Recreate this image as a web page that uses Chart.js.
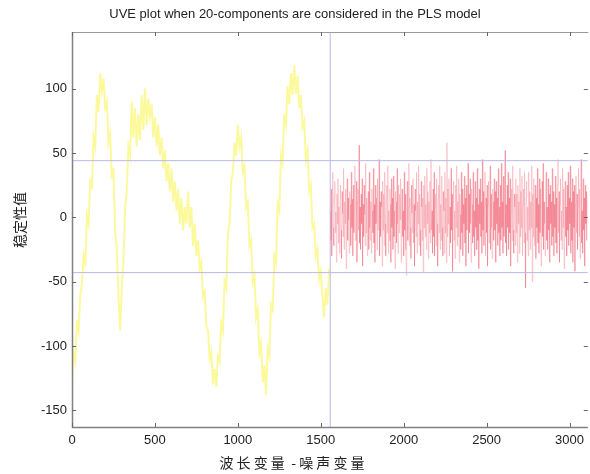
<!DOCTYPE html>
<html>
<head>
<meta charset="utf-8">
<script src="https://cdn.jsdelivr.net/npm/chart.js@4/dist/chart.umd.min.js"></script>
<style>
html,body{margin:0;padding:0;background:#fff;}
canvas{display:block;}
</style>
</head>
<body>
<canvas id="c" width="590" height="474"></canvas>
<script>
// ---- data ----
const chartTitle = "UVE plot when 20-components are considered in the PLS model";
const xAxisTitle = "波 长 变 量  - 噪 声 变 量";
const yAxisTitle = "稳定性值";

// stability values of the real (wavelength) variables, one every WAVE_STEP variables
const WAVE_STEP = 10;
const wavelengthValues = [
 -128,-105,-112,-80,-88,-60,-52,-30,-38,2,-5,30,22,62,55,95,82,112,98,108,
 85,90,58,65,30,38,-10,-25,-60,-88,-55,-35,5,20,55,48,90,62,85,55,
 80,60,95,68,100,72,92,78,88,62,78,55,72,48,62,38,52,28,42,20,
 38,12,28,5,22,-5,15,-10,8,-5,20,-8,8,-22,-5,-30,-18,-40,-35,-62,
 -58,-85,-88,-110,-105,-130,-118,-132,-108,-112,-82,-88,-50,-55,-12,-5,28,35,58,48,
 72,55,62,35,40,8,12,-22,-18,-50,-45,-78,-72,-105,-98,-128,-115,-138,-102,-108,
 -68,-72,-30,-35,10,5,48,42,80,72,102,88,112,95,118,96,110,85,95,70,
 75,45,52,20,25,-8,-5,-30,-25,-48,-42,-62,-78,-55,-68,-40
];

// stability values of the added noise variables
const NOISE_START = 1557;
const NOISE_STEP = 3.1;
const noiseValues = [
 5,-18,22,-30,10,35,-8,-22,15,28,-12,4,-35,18,-5,30,-20,8,-28,12,
 25,-10,-32,20,3,-15,38,-25,12,-5,22,-40,8,30,-18,15,-2,-28,20,10,
 -22,35,-8,14,-30,25,-12,5,40,-18,-5,28,-35,12,22,-10,56,-20,8,-25,
 18,-5,30,-38,10,-15,25,2,-22,42,-12,15,-30,8,20,-25,35,-8,-18,12,
 -28,22,5,-12,38,-20,10,-35,25,-5,15,-25,30,-10,-2,45,-30,12,-15,20,
 8,-38,28,-10,18,-22,35,-5,-30,15,25,-12,40,-28,5,-18,22,10,-35,30,
 -8,15,-25,32,-15,5,-40,20,12,-20,38,-5,-28,25,-12,18,-2,30,-35,10,
 22,-15,5,-30,35,-10,18,-25,-45,12,28,-18,8,42,-22,15,-8,-32,25,3,
 -12,30,-20,10,-38,22,5,-15,35,-28,12,-5,40,-22,18,-10,-30,28,8,-18,
 15,-43,25,-8,32,-15,10,-25,38,-5,20,-32,12,-12,28,-20,45,-10,5,-28,
 22,-15,35,-30,8,18,-22,30,-5,-38,15,25,-12,40,-25,10,-18,32,-8,-30,
 20,5,-28,35,-12,15,-35,58,-15,22,-5,30,-30,8,-20,38,-10,18,-42,12,
 28,-18,5,-32,25,-8,40,-22,12,-15,30,-35,18,2,-25,35,-12,22,-30,10,
 -5,32,-20,15,-38,25,-10,8,42,-28,18,-12,30,-5,-35,22,10,-20,35,-15,
 5,-30,28,-8,15,-25,38,-18,10,-40,22,-5,30,-15,12,-28,45,-10,20,-22,
 8,35,-30,15,-12,25,-38,10,28,-20,5,40,-25,18,-8,-32,22,12,-18,30,
 -10,20,-35,28,-5,15,-22,38,-12,8,-30,25,-18,42,-8,12,-28,32,-15,20,
 52,-20,10,-30,25,-8,35,-25,15,-12,30,-38,5,22,-18,40,-10,-28,18,8,
 -22,30,-12,18,-35,25,-5,12,-28,38,-15,20,-8,32,-30,10,22,-20,35,-12,
 -55,15,28,-18,8,-30,35,-10,20,-25,12,-8,40,-50,18,-15,30,-22,5,25,
 -32,15,-8,38,-20,10,-28,30,-12,22,-38,5,28,-15,42,-25,12,-5,-30,20,
 35,-18,8,-25,30,-10,18,-35,25,-5,12,-22,38,-15,20,-30,10,-8,32,-20,
 15,-28,25,45,-12,20,-35,10,30,-18,5,-25,38,-8,22,-40,12,28,-15,8,
 -30,25,-10,35,-22,15,-5,40,-28,12,-18,30,-35,20,-8,25,-42,10,32,-12,
 18,-25,8,38,-15,22,-32,12,45,-20,5,-28,30,-10,15,-38,25,-5,20,-18
];

const cutoffUpper = 44;
const cutoffLower = -43;
const xRange = [0, 3110];
const yRange = [-163, 144];
const xTickValues = [0, 500, 1000, 1500, 2000, 2500, 3000];
const yTickValues = [-150, -100, -50, 0, 50, 100];

// ---- build datasets ----
const wavePts = wavelengthValues.map((v, i) => ({x: i * WAVE_STEP, y: v}));
const noisePts = noiseValues.map((v, i) => ({x: NOISE_START + i * NOISE_STEP, y: v}));

const refColor = 'rgb(185,185,232)';
const datasets = [
  {data: [{x: xRange[0], y: cutoffUpper}, {x: xRange[1], y: cutoffUpper}], borderColor: refColor, borderWidth: 1},
  {data: [{x: xRange[0], y: cutoffLower}, {x: xRange[1], y: cutoffLower}], borderColor: refColor, borderWidth: 1},
  {data: [{x: NOISE_START, y: yRange[0]}, {x: NOISE_START, y: yRange[1]}], borderColor: refColor, borderWidth: 1},
  {data: noisePts, borderColor: 'rgba(236,70,90,0.26)', borderWidth: 0.9},
  {data: wavePts, borderColor: 'rgba(250,245,90,0.6)', borderWidth: 2}
];

const tickFont = {family: '"Liberation Sans", Arial, sans-serif', size: 13};

const boxPlugin = {
  id: 'box',
  afterDraw(chart) {
    const {ctx, chartArea: a, scales: {x, y}} = chart;
    ctx.save();
    ctx.lineWidth = 1;
    ctx.strokeStyle = '#9a9a9a';
    ctx.beginPath();
    ctx.moveTo(a.left + 0.5, a.top + 0.5);
    ctx.lineTo(a.right + 0.5, a.top + 0.5);
    ctx.stroke();
    ctx.strokeStyle = '#808080';
    ctx.lineWidth = 1.5;
    ctx.beginPath();
    ctx.moveTo(a.left + 0.5, a.top);
    ctx.lineTo(a.left + 0.5, a.bottom + 0.5);
    ctx.lineTo(a.right, a.bottom + 0.5);
    ctx.stroke();
    // inward tick marks
    ctx.lineWidth = 1;
    ctx.strokeStyle = '#666';
    ctx.beginPath();
    x.ticks.forEach(t => {
      const px = Math.round(x.getPixelForValue(t.value)) + 0.5;
      ctx.moveTo(px, a.bottom); ctx.lineTo(px, a.bottom - 4);
      ctx.moveTo(px, a.top); ctx.lineTo(px, a.top + 4);
    });
    y.ticks.forEach(t => {
      const py = Math.round(y.getPixelForValue(t.value)) + 0.5;
      ctx.moveTo(a.left, py); ctx.lineTo(a.left + 4, py);
      ctx.moveTo(a.right, py); ctx.lineTo(a.right - 4, py);
    });
    ctx.stroke();
    // axis titles
    ctx.fillStyle = '#222';
    ctx.font = '14px "Noto Sans CJK SC", sans-serif';
    ctx.textAlign = 'center';
    ctx.textBaseline = 'middle';
    ctx.fillText(xAxisTitle, 292, 463);
    ctx.translate(20, 220);
    ctx.rotate(-Math.PI / 2);
    ctx.fillText(yAxisTitle, 0, 0);
    ctx.restore();
  }
};

new Chart(document.getElementById('c'), {
  type: 'line',
  data: {datasets},
  plugins: [boxPlugin],
  options: {
    responsive: false,
    animation: false,
    layout: {padding: {left: 0, right: 0, top: 0, bottom: 0}},
    elements: {point: {radius: 0}, line: {tension: 0, fill: false}},
    plugins: {
      legend: {display: false},
      tooltip: {enabled: false},
      title: {
        display: true,
        text: chartTitle,
        color: '#222',
        font: {family: '"Liberation Sans", Arial, sans-serif', size: 13, weight: 'normal'},
        padding: {top: 7, bottom: 9.4}
      }
    },
    scales: {
      x: {
        type: 'linear',
        min: xRange[0], max: xRange[1],
        grid: {display: false, drawTicks: false},
        border: {display: false},
        afterBuildTicks(s) { s.ticks = xTickValues.map(v => ({value: v})); },
        ticks: {autoSkip: false, color: '#222', font: tickFont, padding: 6, maxRotation: 0, callback: v => String(v)},
        afterFit(s) { s.height = 47; }
      },
      y: {
        type: 'linear',
        min: yRange[0], max: yRange[1],
        grid: {display: false, drawTicks: false},
        border: {display: false},
        afterBuildTicks(s) { s.ticks = yTickValues.map(v => ({value: v})); },
        ticks: {autoSkip: false, color: '#222', font: tickFont, padding: 5, callback: v => String(v)},
        afterFit(s) { s.width = 72; }
      }
    }
  }
});
</script>
</body>
</html>
